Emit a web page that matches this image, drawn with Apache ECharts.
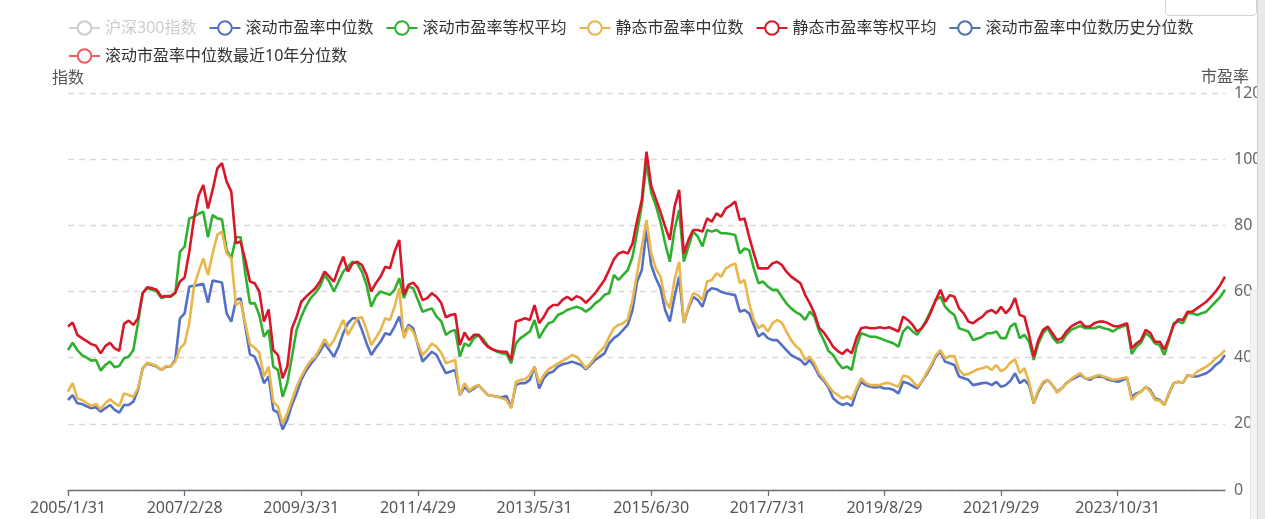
<!DOCTYPE html>
<html><head><meta charset="utf-8">
<script src="https://cdn.jsdelivr.net/npm/echarts@6/dist/echarts.min.js"></script>
<style>
html,body{margin:0;padding:0;background:#fff;overflow:hidden}
#chart{position:absolute;left:0;top:0;width:1265px;height:519px}
.box{position:absolute;left:1165px;top:-8px;width:90px;height:22px;border:1px solid #d3d3d3;border-radius:4px;background:#fff}
.panel{position:absolute;left:1250px;top:290px;width:7px;height:229px;background:#f3f3f3;border-left:1px solid #e4e4e4;border-top:1px solid #e4e4e4}
.strip{position:absolute;left:1257px;top:0;width:8px;height:519px;background:#e9e9e9;border-left:1px solid #d2d2d2}
</style></head>
<body>
<div id="chart"></div>
<div class="box"></div>
<div class="panel"></div>
<div class="strip"></div>
<script>
// ---- data ----
const startYear = 2005;
const monthCount = 249;
const tickLabels = ['2005/1/31','2007/2/28','2009/3/31','2011/4/29','2013/5/31','2015/6/30','2017/7/31','2019/8/29','2021/9/29','2023/10/31'];
const seriesNames = ['沪深300指数','滚动市盈率中位数','滚动市盈率等权平均','静态市盈率中位数','静态市盈率等权平均','滚动市盈率中位数历史分位数','滚动市盈率中位数最近10年分位数'];
const seriesColors = ['#aaaaaa','#5470c6','#2fb12f','#e8b64a','#d9172a','#4a76a8','#f25b5b'];

const csi300 = [];
const rollingMedian = [27.2,28.7,26.2,26,25.3,24.7,25,23.7,24.7,25.7,
24.2,23.4,25.7,25.7,26.7,30.2,36.8,38.3,37.8,37.3,
36.3,37.3,37.3,39.3,51.9,53.4,61.5,61.7,62,62.3,
56.6,63.3,63,62.7,53.4,50.9,57.4,58,49.4,41,
40.3,37,32.3,34.3,24.2,23.4,18.3,21.2,25.7,29.2,
33.3,36,38,39.8,41.8,44.3,42.3,40.3,43.3,47.4,
50.4,51.9,51.9,48.4,44.3,40.8,43,44.8,47.4,46.9,
49.4,52.4,46.9,49.9,48.9,43.8,38.8,40.3,41.8,40.8,
38,35.3,35.8,36.3,28.7,31.2,29.7,30.7,31.7,30.2,
28.7,28.5,28.2,28,28.4,25,31.7,32.3,32.3,33.3,
37.3,30.7,33.8,35.3,35.8,37.3,38,38.3,38.8,38.3,
37.8,36.5,37.8,39.3,40.3,41.3,44.3,45.9,46.9,48.4,
50,54.4,63,66.5,78.6,68,64,61,54.4,50.9,
58.4,64.5,50.6,54.9,58.4,57.4,55.4,59.9,61,60.7,
59.9,59.5,59.2,58.9,53.9,54.4,53.4,49.9,46.4,47.4,
45.9,45.3,45.3,43.8,42.3,40.8,40,39.3,37.8,39.3,
37.3,34.5,33,31,27.7,26.5,25.7,26.2,25.4,29.7,
32.7,31.7,31.2,31,31.2,30.7,30.7,30.2,29.2,32.7,
32.3,31.5,30.7,32.7,34.8,37.3,40.3,41.8,38.8,38.3,
37.8,34.3,33.8,33.3,31.7,32,32.3,32.4,31.7,32.7,
31.2,31.7,33,35.3,32.3,33.3,31.7,26.2,29.7,32.3,
33.3,31.7,29.7,30.7,32.3,33.3,34,34.8,33.8,33.3,
34.1,34.3,34.1,33.3,33,32.7,33.2,33.8,28.2,29.2,
29.7,31.2,30.2,27.7,27.2,25.7,29.2,32.3,32.7,32.4,
34.8,34.3,34.3,34.8,35.3,36.3,37.8,38.8,40.8];

const rollingMean = [42.3,44.5,42.3,40.8,40,39.1,39.3,36.1,37.8,38.8,
37.1,37.5,39.8,40.3,42.3,50.4,59.5,61,60.5,60,
58,58.4,58.4,59.5,72,73.6,82.1,82.6,83.5,84.1,
76.4,83.1,82.1,81.8,72.5,70,76.4,76.4,65.5,56.4,
56.5,53,46.3,48.4,37.3,36.3,28.2,32.3,40.3,48.4,
52.4,55.5,58,59.5,61.5,65,63,60,63,66,
67.5,69,68.5,66,62,55.4,58.5,60,59.5,59,
60.5,64,58,61.5,61,57.4,53.9,54.4,54.9,52.4,
51,46.9,47.9,48.4,40.3,44.3,43.5,45.9,46.9,45.6,
43.5,42.5,41.8,41.3,41.1,38.3,44.3,45.9,46.9,47.9,
51.4,45.9,48.4,50.4,50.9,52.9,53.5,54.4,54.9,55.4,
54.9,53.9,54.9,56.4,57.4,59,59.5,65,63.5,65,
66.5,70.5,78,86.2,98.8,90,86,81,74.6,69,
78.6,84.6,69,73.6,78.1,76.6,73.6,78.6,78.1,78.6,
77.6,77.6,77.4,77.1,71.5,73,72.5,67,62.5,63,
61.5,60.5,60.5,58.4,56.4,54.9,53.8,53,51.4,53.9,
52.4,48,45.3,42,40.8,38.5,36.8,37.3,36.3,43.3,
47.4,46.9,46.3,46.3,45.9,45.3,44.8,44.3,43.3,47.9,
49.4,48,46.9,48.9,51.4,54.4,57.4,58.4,55.4,53.9,
52.9,48.9,48.4,47.9,45.3,45.8,46.3,47.4,47.4,47.9,
45.9,45.9,49.4,50.4,45.9,46.9,44.8,39.3,44.3,47.4,
48.9,46.3,44.5,44.8,46.9,48.4,49,49.6,48.9,48.9,
48.9,49.4,48.9,48.6,47.9,48.9,49.4,49.9,41.1,43.3,
44.5,47.4,46.3,44.3,43.8,40.8,45.3,50.4,50.9,50.4,
53.4,53.4,52.9,53.4,53.9,55.4,56.9,58.4,60.5];

const staticMedian = [29.7,32.3,27.7,27.2,26.3,25.4,26,24.4,26.2,27.4,
26.2,25.4,29.2,28.7,28.2,30.7,36.8,38.5,38,37.5,
36.3,37.5,37.3,38.8,42.8,44.3,50.4,61.5,66,70,
65,71.5,77.1,78.1,71.5,70,55.9,56.9,50.4,44,
43,41.5,34.3,37.3,26.7,25.2,20,23.2,27.2,31.2,
34.3,37,39,40.3,42.8,45.6,43.3,45.3,48.4,51.4,
46.9,49.4,51.9,52.2,48.4,43.8,46,48.4,51.9,51.4,
55.4,61,45.9,49.4,47.9,44.3,40.8,42.3,44.3,43.3,
41.5,38.3,38.8,39.3,28.7,32.3,30,31.2,31.7,30.2,
28.7,28.5,28.2,27.7,27.2,24.7,32.7,33.3,33.5,34.8,
37.3,32.3,34.8,36.5,37.3,38.3,39,39.8,40.8,40.3,
38.8,36.8,38.3,40.3,41.8,43.3,46.3,48.9,49.9,50.4,
51.6,57.4,65.5,73.6,81.6,71.5,67,64.5,57.4,54.9,
63.5,69,50.4,55.4,59.5,58.9,57.4,63,63.5,65.5,
64.5,67,67.8,68.5,62.5,63.5,56.4,51.4,48.9,49.9,
47.9,50.4,51.4,50.6,47.9,45.3,43.5,42.3,39.3,40.3,
38.3,35.3,33.6,31.5,29.7,28.7,27.7,28.4,27.4,30.7,
33.8,32.4,31.7,31.7,31.7,32.3,32.3,31.7,31.2,34.5,
34.3,33,31.2,32.7,35.3,37.8,40.8,42.3,39.8,40.5,
40.5,36.3,34.8,35.1,35.8,36.5,36.8,37.3,36.3,37.8,
35.8,36.8,38.5,39.5,35.3,36.8,32.7,26.2,30.2,32.7,
33.3,31.7,29.4,30.7,32.3,33.5,34.5,35.3,33.8,33.8,
34.3,34.8,34.3,33.8,33.3,33.5,33.8,34.1,27.2,28.7,
29.7,31.2,29.7,27.2,27,25.7,29.4,32.3,32.7,32.4,
34.8,34.3,35.8,36.5,37.3,38.3,39.8,40.8,42.3];

const staticMean = [49.4,50.6,46.9,45.9,45,44.1,43.6,41.3,43.5,44.5,
42.8,42.1,50.2,51.2,49.9,51.9,59.5,61.3,61,60.5,
58.4,58.6,58.6,59.7,63,64.2,72,82,89,92.2,
85.1,90.7,97.2,98.8,93.2,90.2,74.6,75.1,69.5,63,
62.5,60,50.9,54.6,42.3,40.8,33.8,37.3,48.9,52.4,
56.9,58.4,59.7,61,63,66,64.5,63,67,70.5,
66,68.5,69,68,65,60,62.5,64.5,67.5,67,
72,75.6,59,62,62.7,61,57.4,58,59.5,58.4,
56.5,52.2,52.9,53.2,43.8,47.6,45.3,46.9,46.9,44.8,
43.3,42.5,42,41.8,41.8,39.3,50.9,51.4,51.9,51.4,
55.9,50.4,52.4,54.9,55.9,55.9,57.5,58.4,57.4,58.6,
58,56.6,58,59.5,61.5,63.5,66.5,69.7,71.5,72,
71.5,74.5,81.5,87.7,102.3,92,88,84,79.6,75.6,
85.6,90.7,71.5,75.6,78.6,78.6,78.1,82.1,81.1,83.6,
82.6,85.1,86,87.2,81.6,82.1,76.6,71.5,67,67,
67,68.5,69,68,66,64.5,63.5,62.5,59,56.4,
53.4,49,47.6,45.6,43.3,42,41.1,42.5,41.3,45.9,
48.9,49.2,48.9,48.9,49.2,48.9,49.2,48.6,47.9,52.4,
51.4,50,47.9,48.9,50.9,53.9,57.4,60.5,56.9,58.9,
58.4,54.9,53.4,50.9,50.4,51.5,52.4,53.9,54.4,53.4,
55.4,53.4,55,58,52.9,52.4,46.9,40.3,45.3,48.4,
49.4,47.4,45.3,45.9,47.9,49.4,50.2,50.9,49.4,49.4,
50.4,50.9,50.9,50.4,49.6,49.4,49.9,50.4,42.8,44.3,
45.3,48.4,47.4,44.8,44.8,42.5,45.9,49.9,51.6,51.4,
53.9,53.9,54.9,55.9,56.9,58.4,60,62,64.5];

const medianPctHist = [];
const medianPct10y = [];

// ---- categories: month-end trading dates ----
const categories = [];
for (let k = 0; k < monthCount; k++) {
  const y = startYear + Math.floor(k / 12), m = k % 12 + 1;
  const d = new Date(y, m, 0);
  let day = d.getDate();
  const wd = d.getDay();
  if (wd === 6) day -= 1; else if (wd === 0) day -= 2;
  categories.push(y + '/' + m + '/' + day);
}
tickLabels.forEach((t, j) => { categories[j * 25] = t; });

const FONT = '"Noto Sans", "Noto Sans CJK SC", sans-serif';
const allData = [csi300, rollingMedian, rollingMean, staticMedian, staticMean, medianPctHist, medianPct10y];

const chart = echarts.init(document.getElementById('chart'), null, {renderer: 'canvas'});
chart.setOption({
  animation: false,
  textStyle: {fontFamily: FONT},
  color: seriesColors,
  legend: {
    left: 68, top: 20, width: 1160, padding: 0,
    itemWidth: 31, itemHeight: 17, itemGap: 12,
    textStyle: {fontSize: 16, color: '#333', fontFamily: FONT},
    inactiveColor: '#cccccc',
    selected: {'沪深300指数': false},
    data: seriesNames
  },
  grid: {left: 68, right: 40, top: 93, bottom: 29},
  xAxis: {
    type: 'category', boundaryGap: false, data: categories,
    axisLine: {lineStyle: {color: '#6e7079', width: 1.3}},
    axisTick: {interval: 24, length: 6, lineStyle: {color: '#6e7079', width: 1.3}},
    axisLabel: {interval: 24, fontSize: 16, color: '#555', margin: 10, fontFamily: FONT}
  },
  yAxis: [
    {type: 'value', position: 'left', name: '指数',
     nameTextStyle: {fontSize: 16, color: '#555', fontFamily: FONT}, nameGap: 7,
     axisLabel: {show: false}, axisLine: {show: false}, axisTick: {show: false}, splitLine: {show: false}},
    {type: 'value', position: 'right', name: '市盈率', min: 0, max: 120, interval: 20,
     nameTextStyle: {fontSize: 16, color: '#555', fontFamily: FONT}, nameGap: 7,
     axisLabel: {fontSize: 16, color: '#666', margin: 9, fontFamily: FONT},
     axisLine: {show: false}, axisTick: {show: false},
     splitLine: {lineStyle: {type: [6, 5], color: '#d9d9d9', width: 1.3}}}
  ],
  series: seriesNames.map((n, i) => ({
    name: n, type: 'line', yAxisIndex: i === 0 ? 0 : 1,
    data: allData[i], showSymbol: false, symbol: 'emptyCircle',
    lineStyle: {width: 2.6}, emphasis: {disabled: true}
  }))
});
</script>
</body></html>
